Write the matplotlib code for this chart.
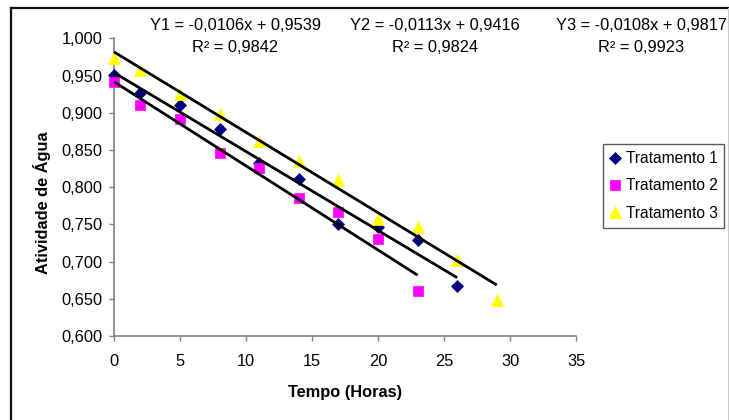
import matplotlib
matplotlib.use("Agg")
import matplotlib.pyplot as plt
from matplotlib.lines import Line2D
from matplotlib.ticker import FuncFormatter
import numpy as np

plt.rcParams['font.family'] = ['Liberation Sans', 'DejaVu Sans']

# ---- data ----
t1 = [0, 2, 5, 8, 11, 14, 17, 20, 23, 26]
aw1 = [0.951, 0.927, 0.910, 0.878, 0.832, 0.811, 0.751, 0.746, 0.729, 0.667]
t2 = [0, 2, 5, 8, 11, 14, 17, 20, 23]
aw2 = [0.941, 0.910, 0.891, 0.846, 0.826, 0.786, 0.766, 0.730, 0.660]
t3 = [0, 2, 5, 8, 11, 14, 17, 20, 23, 26, 29]
aw3 = [0.973, 0.957, 0.925, 0.898, 0.862, 0.835, 0.809, 0.757, 0.746, 0.702, 0.648]

series_names = ["Tratamento 1", "Tratamento 2", "Tratamento 3"]
eq_names = ["Y1", "Y2", "Y3"]
slopes = [-0.0106, -0.0113, -0.0108]
intercepts = [0.9539, 0.9416, 0.9817]
r2_values = [0.9842, 0.9824, 0.9923]

x_ticks = [0, 5, 10, 15, 20, 25, 30, 35]
y_ticks = [0.600, 0.650, 0.700, 0.750, 0.800, 0.850, 0.900, 0.950, 1.000]

# ---- styles ----
W, H = 729, 420
FS = 11.8
fig = plt.figure(figsize=(W / 100, H / 100), dpi=100)
ax = fig.add_axes([114 / W, 1 - 336 / H, (576 - 114) / W, (336 - 38.3) / H])

styles = [
    dict(marker='D', color='#000080', ms=6.2),
    dict(marker='s', color='#FF00FF', ms=6.6),
    dict(marker='^', color='#FFFF00', ms=8.0),
]
xs = [t1, t2, t3]
ys = [aw1, aw2, aw3]

for x, y, st, name in zip(xs, ys, styles, series_names):
    ax.plot(x, y, linestyle='none', marker=st['marker'], markersize=st['ms'],
            markerfacecolor=st['color'], markeredgecolor=st['color'], markeredgewidth=0.5,
            label=name, zorder=3, clip_on=False)

for x, m, b in zip(xs, slopes, intercepts):
    xx = np.array([min(x), max(x)])
    ax.plot(xx, m * xx + b, color='black', lw=2.0, zorder=4, solid_capstyle='butt')

ax.set_xlim(0, 35)
ax.set_ylim(0.6, 1.0)
ax.set_xticks(x_ticks)
ax.set_yticks(y_ticks)
ax.yaxis.set_major_formatter(FuncFormatter(lambda v, p: f"{v:.3f}".replace('.', ',')))
ax.xaxis.set_major_formatter(FuncFormatter(lambda v, p: f"{v:g}"))

for s in ['top', 'right']:
    ax.spines[s].set_visible(False)
for s in ['left', 'bottom']:
    ax.spines[s].set_color('#808080')
    ax.spines[s].set_linewidth(1.2)
ax.tick_params(axis='both', direction='out', length=3.5, width=1.0, color='#808080',
               labelsize=FS, labelcolor='black')
ax.tick_params(axis='y', pad=5)
ax.tick_params(axis='x', pad=9.5)

ax.set_xlabel("Tempo (Horas)", fontsize=FS, fontweight='bold')
ax.xaxis.set_label_coords(0.5, (336 - 392) / (336 - 38.3), transform=ax.transAxes)
ax.xaxis.label.set_va('center')
ax.set_ylabel("Atividade de Água", fontsize=FS, fontweight='bold')
ax.yaxis.set_label_coords((42 - 114) / (576 - 114), (336 - 203) / (336 - 38.3), transform=ax.transAxes)
ax.yaxis.label.set_va('center')

# equation annotations
eq_x = [235, 435, 641]
for name, m, b, r2, px in zip(eq_names, slopes, intercepts, r2_values, eq_x):
    eq = f"{name} = {m:.4f}x + {b:.4f}".replace('.', ',')
    fig.text(px / W, 1 - 25 / H, eq, ha='center', va='center', fontsize=FS)
    fig.text(px / W, 1 - 47 / H, f"R² = {r2:.4f}".replace('.', ','), ha='center', va='center', fontsize=FS)

leg = ax.legend(loc='upper left', bbox_to_anchor=(603 / W, 1 - 144 / H), bbox_transform=fig.transFigure,
                borderaxespad=0, frameon=True, fancybox=False, fontsize=11.2, handlelength=0.7,
                handletextpad=0.3, labelspacing=0.8, borderpad=0.45)
leg.get_frame().set_edgecolor('#303030')
leg.get_frame().set_linewidth(1.0)

# outer frame
fig.add_artist(Line2D([11 / W, 1], [1 - 8 / H, 1 - 8 / H], color='#111111', lw=1.6, transform=fig.transFigure))
fig.add_artist(Line2D([11 / W, 11 / W], [0, 1 - 8 / H], color='#111111', lw=1.6, transform=fig.transFigure))
fig.add_artist(Line2D([727.5 / W, 727.5 / W], [0, 1 - 8 / H], color='#c8c8c8', lw=0.8, transform=fig.transFigure))

fig.savefig("out.png", dpi=100)
